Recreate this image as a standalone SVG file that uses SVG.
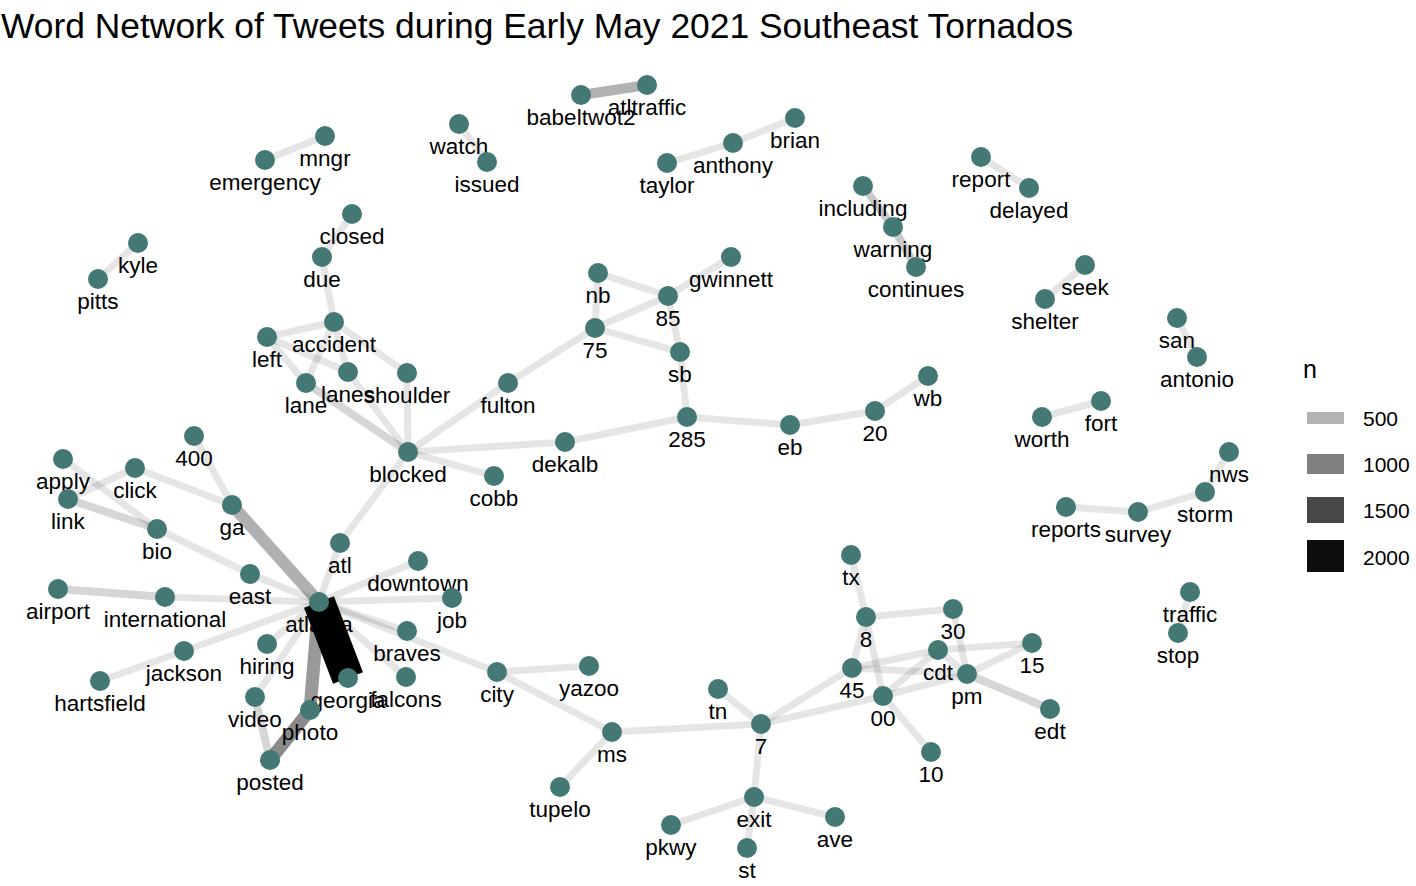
<svg xmlns="http://www.w3.org/2000/svg" width="1416" height="886" viewBox="0 0 1416 886">
<style>
text{font-family:"Liberation Sans",Arial,sans-serif;fill:#000}
.lbl{font-size:22.5px;text-anchor:middle}
.nd circle{fill:#437875}
.e line{stroke:#000;stroke-linecap:butt;fill:none}
.a1{stroke-opacity:.1;stroke-width:7}
.a2{stroke-opacity:.16;stroke-width:8}
.a3{stroke-opacity:.21;stroke-width:8}
.a4{stroke-opacity:.3;stroke-width:10}
.a5{stroke-opacity:.31;stroke-width:12}
.a6{stroke-opacity:.4;stroke-width:13}
.a7{stroke-opacity:.46;stroke-width:13}
.a8{stroke-opacity:1;stroke-width:32}
.leg{font-size:21px}
</style>
<rect width="1416" height="886" fill="#fff"/>
<text x="1" y="38" style="font-size:35.4px">Word Network of Tweets during Early May 2021 Southeast Tornados</text>
<g id="connectors" class="e">
<line class="a1" x1="325" y1="136" x2="265" y2="160"/>
<line class="a1" x1="459" y1="124" x2="487" y2="162"/>
<line class="a1" x1="667" y1="163" x2="733" y2="143"/>
<line class="a1" x1="733" y1="143" x2="795" y2="118"/>
<line class="a1" x1="138" y1="243" x2="98" y2="279"/>
<line class="a4" x1="581" y1="95" x2="647" y2="85"/>
<line class="a1" x1="352" y1="214" x2="322" y2="257"/>
<line class="a1" x1="322" y1="257" x2="334" y2="322"/>
<line class="a1" x1="334" y1="322" x2="267" y2="337"/>
<line class="a1" x1="334" y1="322" x2="306" y2="383"/>
<line class="a1" x1="334" y1="322" x2="348" y2="372"/>
<line class="a1" x1="334" y1="322" x2="407" y2="373"/>
<line class="a1" x1="267" y1="337" x2="306" y2="383"/>
<line class="a1" x1="267" y1="337" x2="348" y2="372"/>
<line class="a1" x1="407" y1="373" x2="408" y2="452"/>
<line class="a1" x1="348" y1="372" x2="408" y2="452"/>
<line class="a2" x1="306" y1="383" x2="408" y2="452"/>
<line class="a1" x1="408" y1="452" x2="508" y2="383"/>
<line class="a1" x1="508" y1="383" x2="595" y2="328"/>
<line class="a1" x1="408" y1="452" x2="565" y2="442"/>
<line class="a1" x1="565" y1="442" x2="687" y2="417"/>
<line class="a1" x1="408" y1="452" x2="494" y2="476"/>
<line class="a1" x1="408" y1="452" x2="340" y2="543"/>
<line class="a1" x1="595" y1="328" x2="598" y2="273"/>
<line class="a1" x1="598" y1="273" x2="668" y2="296"/>
<line class="a1" x1="595" y1="328" x2="668" y2="296"/>
<line class="a1" x1="668" y1="296" x2="731" y2="257"/>
<line class="a1" x1="595" y1="328" x2="680" y2="352"/>
<line class="a1" x1="668" y1="296" x2="680" y2="352"/>
<line class="a1" x1="680" y1="352" x2="687" y2="417"/>
<line class="a1" x1="687" y1="417" x2="790" y2="425"/>
<line class="a1" x1="790" y1="425" x2="875" y2="411"/>
<line class="a1" x1="875" y1="411" x2="928" y2="376"/>
<line class="a3" x1="863" y1="186" x2="893" y2="227"/>
<line class="a3" x1="893" y1="227" x2="916" y2="267"/>
<line class="a1" x1="981" y1="157" x2="1029" y2="188"/>
<line class="a1" x1="1085" y1="265" x2="1045" y2="299"/>
<line class="a1" x1="1177" y1="318" x2="1197" y2="357"/>
<line class="a1" x1="1101" y1="401" x2="1042" y2="417"/>
<line class="a1" x1="1066" y1="507" x2="1138" y2="512"/>
<line class="a1" x1="1138" y1="512" x2="1205" y2="492"/>
<line class="a1" x1="1205" y1="492" x2="1229" y2="452"/>
<line class="a1" x1="1190" y1="592" x2="1178" y2="633"/>
<line class="a1" x1="63" y1="459" x2="157" y2="529"/>
<line class="a1" x1="135" y1="468" x2="68" y2="499"/>
<line class="a2" x1="68" y1="499" x2="157" y2="529"/>
<line class="a1" x1="135" y1="468" x2="232" y2="505"/>
<line class="a1" x1="194" y1="436" x2="232" y2="505"/>
<line class="a5" x1="232" y1="505" x2="319" y2="602"/>
<line class="a1" x1="157" y1="529" x2="250" y2="574"/>
<line class="a1" x1="250" y1="574" x2="319" y2="602"/>
<line class="a2" x1="58" y1="589" x2="165" y2="597"/>
<line class="a1" x1="165" y1="597" x2="319" y2="602"/>
<line class="a1" x1="184" y1="651" x2="319" y2="602"/>
<line class="a1" x1="100" y1="681" x2="184" y2="651"/>
<line class="a1" x1="267" y1="644" x2="319" y2="602"/>
<line class="a1" x1="255" y1="697" x2="319" y2="602"/>
<line class="a1" x1="340" y1="543" x2="319" y2="602"/>
<line class="a1" x1="418" y1="561" x2="319" y2="602"/>
<line class="a1" x1="452" y1="598" x2="319" y2="602"/>
<line class="a1" x1="407" y1="631" x2="319" y2="602"/>
<line class="a1" x1="497" y1="672" x2="319" y2="602"/>
<line class="a1" x1="406" y1="677" x2="319" y2="602"/>
<line class="a2" x1="255" y1="697" x2="270" y2="760"/>
<line class="a6" x1="319" y1="602" x2="310" y2="710"/>
<line class="a7" x1="310" y1="710" x2="270" y2="760"/>
<line class="a8" x1="319" y1="602" x2="348" y2="678"/>
<line class="a1" x1="497" y1="672" x2="589" y2="666"/>
<line class="a1" x1="497" y1="672" x2="612" y2="732"/>
<line class="a1" x1="612" y1="732" x2="560" y2="787"/>
<line class="a1" x1="612" y1="732" x2="761" y2="724"/>
<line class="a1" x1="761" y1="724" x2="718" y2="689"/>
<line class="a1" x1="761" y1="724" x2="754" y2="797"/>
<line class="a1" x1="754" y1="797" x2="671" y2="825"/>
<line class="a1" x1="754" y1="797" x2="747" y2="848"/>
<line class="a1" x1="754" y1="797" x2="835" y2="817"/>
<line class="a1" x1="761" y1="724" x2="852" y2="668"/>
<line class="a1" x1="761" y1="724" x2="883" y2="696"/>
<line class="a1" x1="851" y1="555" x2="866" y2="617"/>
<line class="a1" x1="866" y1="617" x2="953" y2="609"/>
<line class="a1" x1="866" y1="617" x2="852" y2="668"/>
<line class="a1" x1="866" y1="617" x2="883" y2="696"/>
<line class="a1" x1="953" y1="609" x2="967" y2="674"/>
<line class="a1" x1="852" y1="668" x2="938" y2="650"/>
<line class="a1" x1="852" y1="668" x2="967" y2="674"/>
<line class="a1" x1="938" y1="650" x2="1032" y2="643"/>
<line class="a1" x1="938" y1="650" x2="967" y2="674"/>
<line class="a1" x1="883" y1="696" x2="938" y2="650"/>
<line class="a1" x1="883" y1="696" x2="967" y2="674"/>
<line class="a1" x1="967" y1="674" x2="1032" y2="643"/>
<line class="a2" x1="967" y1="674" x2="1050" y2="709"/>
<line class="a1" x1="883" y1="696" x2="931" y2="752"/>
</g>
<g id="nodes" class="nd">
<g id="n-babeltwot2"><circle cx="581" cy="95" r="10"/><text class="lbl" x="581" y="125">babeltwot2</text></g>
<g id="n-atltraffic"><circle cx="647" cy="85" r="10"/><text class="lbl" x="647" y="115">atltraffic</text></g>
<g id="n-watch"><circle cx="459" cy="124" r="10"/><text class="lbl" x="459" y="154">watch</text></g>
<g id="n-issued"><circle cx="487" cy="162" r="10"/><text class="lbl" x="487" y="192">issued</text></g>
<g id="n-mngr"><circle cx="325" cy="136" r="10"/><text class="lbl" x="325" y="166">mngr</text></g>
<g id="n-emergency"><circle cx="265" cy="160" r="10"/><text class="lbl" x="265" y="190">emergency</text></g>
<g id="n-brian"><circle cx="795" cy="118" r="10"/><text class="lbl" x="795" y="148">brian</text></g>
<g id="n-anthony"><circle cx="733" cy="143" r="10"/><text class="lbl" x="733" y="173">anthony</text></g>
<g id="n-taylor"><circle cx="667" cy="163" r="10"/><text class="lbl" x="667" y="193">taylor</text></g>
<g id="n-kyle"><circle cx="138" cy="243" r="10"/><text class="lbl" x="138" y="273">kyle</text></g>
<g id="n-pitts"><circle cx="98" cy="279" r="10"/><text class="lbl" x="98" y="309">pitts</text></g>
<g id="n-closed"><circle cx="352" cy="214" r="10"/><text class="lbl" x="352" y="244">closed</text></g>
<g id="n-due"><circle cx="322" cy="257" r="10"/><text class="lbl" x="322" y="287">due</text></g>
<g id="n-accident"><circle cx="334" cy="322" r="10"/><text class="lbl" x="334" y="352">accident</text></g>
<g id="n-left"><circle cx="267" cy="337" r="10"/><text class="lbl" x="267" y="367">left</text></g>
<g id="n-lane"><circle cx="306" cy="383" r="10"/><text class="lbl" x="306" y="413">lane</text></g>
<g id="n-lanes"><circle cx="348" cy="372" r="10"/><text class="lbl" x="348" y="402">lanes</text></g>
<g id="n-shoulder"><circle cx="407" cy="373" r="10"/><text class="lbl" x="407" y="403">shoulder</text></g>
<g id="n-fulton"><circle cx="508" cy="383" r="10"/><text class="lbl" x="508" y="413">fulton</text></g>
<g id="n-blocked"><circle cx="408" cy="452" r="10"/><text class="lbl" x="408" y="482">blocked</text></g>
<g id="n-cobb"><circle cx="494" cy="476" r="10"/><text class="lbl" x="494" y="506">cobb</text></g>
<g id="n-dekalb"><circle cx="565" cy="442" r="10"/><text class="lbl" x="565" y="472">dekalb</text></g>
<g id="n-nb"><circle cx="598" cy="273" r="10"/><text class="lbl" x="598" y="303">nb</text></g>
<g id="n-gwinnett"><circle cx="731" cy="257" r="10"/><text class="lbl" x="731" y="287">gwinnett</text></g>
<g id="n-85"><circle cx="668" cy="296" r="10"/><text class="lbl" x="668" y="326">85</text></g>
<g id="n-75"><circle cx="595" cy="328" r="10"/><text class="lbl" x="595" y="358">75</text></g>
<g id="n-sb"><circle cx="680" cy="352" r="10"/><text class="lbl" x="680" y="382">sb</text></g>
<g id="n-285"><circle cx="687" cy="417" r="10"/><text class="lbl" x="687" y="447">285</text></g>
<g id="n-eb"><circle cx="790" cy="425" r="10"/><text class="lbl" x="790" y="455">eb</text></g>
<g id="n-20"><circle cx="875" cy="411" r="10"/><text class="lbl" x="875" y="441">20</text></g>
<g id="n-wb"><circle cx="928" cy="376" r="10"/><text class="lbl" x="928" y="406">wb</text></g>
<g id="n-including"><circle cx="863" cy="186" r="10"/><text class="lbl" x="863" y="216">including</text></g>
<g id="n-warning"><circle cx="893" cy="227" r="10"/><text class="lbl" x="893" y="257">warning</text></g>
<g id="n-continues"><circle cx="916" cy="267" r="10"/><text class="lbl" x="916" y="297">continues</text></g>
<g id="n-report"><circle cx="981" cy="157" r="10"/><text class="lbl" x="981" y="187">report</text></g>
<g id="n-delayed"><circle cx="1029" cy="188" r="10"/><text class="lbl" x="1029" y="218">delayed</text></g>
<g id="n-seek"><circle cx="1085" cy="265" r="10"/><text class="lbl" x="1085" y="295">seek</text></g>
<g id="n-shelter"><circle cx="1045" cy="299" r="10"/><text class="lbl" x="1045" y="329">shelter</text></g>
<g id="n-san"><circle cx="1177" cy="318" r="10"/><text class="lbl" x="1177" y="348">san</text></g>
<g id="n-antonio"><circle cx="1197" cy="357" r="10"/><text class="lbl" x="1197" y="387">antonio</text></g>
<g id="n-fort"><circle cx="1101" cy="401" r="10"/><text class="lbl" x="1101" y="431">fort</text></g>
<g id="n-worth"><circle cx="1042" cy="417" r="10"/><text class="lbl" x="1042" y="447">worth</text></g>
<g id="n-nws"><circle cx="1229" cy="452" r="10"/><text class="lbl" x="1229" y="482">nws</text></g>
<g id="n-storm"><circle cx="1205" cy="492" r="10"/><text class="lbl" x="1205" y="522">storm</text></g>
<g id="n-survey"><circle cx="1138" cy="512" r="10"/><text class="lbl" x="1138" y="542">survey</text></g>
<g id="n-reports"><circle cx="1066" cy="507" r="10"/><text class="lbl" x="1066" y="537">reports</text></g>
<g id="n-traffic"><circle cx="1190" cy="592" r="10"/><text class="lbl" x="1190" y="622">traffic</text></g>
<g id="n-stop"><circle cx="1178" cy="633" r="10"/><text class="lbl" x="1178" y="663">stop</text></g>
<g id="n-400"><circle cx="194" cy="436" r="10"/><text class="lbl" x="194" y="466">400</text></g>
<g id="n-apply"><circle cx="63" cy="459" r="10"/><text class="lbl" x="63" y="489">apply</text></g>
<g id="n-click"><circle cx="135" cy="468" r="10"/><text class="lbl" x="135" y="498">click</text></g>
<g id="n-link"><circle cx="68" cy="499" r="10"/><text class="lbl" x="68" y="529">link</text></g>
<g id="n-bio"><circle cx="157" cy="529" r="10"/><text class="lbl" x="157" y="559">bio</text></g>
<g id="n-ga"><circle cx="232" cy="505" r="10"/><text class="lbl" x="232" y="535">ga</text></g>
<g id="n-atl"><circle cx="340" cy="543" r="10"/><text class="lbl" x="340" y="573">atl</text></g>
<g id="n-downtown"><circle cx="418" cy="561" r="10"/><text class="lbl" x="418" y="591">downtown</text></g>
<g id="n-east"><circle cx="250" cy="574" r="10"/><text class="lbl" x="250" y="604">east</text></g>
<g id="n-airport"><circle cx="58" cy="589" r="10"/><text class="lbl" x="58" y="619">airport</text></g>
<g id="n-international"><circle cx="165" cy="597" r="10"/><text class="lbl" x="165" y="627">international</text></g>
<g id="n-job"><circle cx="452" cy="598" r="10"/><text class="lbl" x="452" y="628">job</text></g>
<g id="n-braves"><circle cx="407" cy="631" r="10"/><text class="lbl" x="407" y="661">braves</text></g>
<g id="n-hiring"><circle cx="267" cy="644" r="10"/><text class="lbl" x="267" y="674">hiring</text></g>
<g id="n-jackson"><circle cx="184" cy="651" r="10"/><text class="lbl" x="184" y="681">jackson</text></g>
<g id="n-hartsfield"><circle cx="100" cy="681" r="10"/><text class="lbl" x="100" y="711">hartsfield</text></g>
<g id="n-falcons"><circle cx="406" cy="677" r="10"/><text class="lbl" x="406" y="707">falcons</text></g>
<g id="n-georgia"><circle cx="348" cy="678" r="10"/><text class="lbl" x="348" y="708">georgia</text></g>
<g id="n-atlanta"><circle cx="319" cy="602" r="10"/><text class="lbl" x="319" y="632">atlanta</text></g>
<g id="n-city"><circle cx="497" cy="672" r="10"/><text class="lbl" x="497" y="702">city</text></g>
<g id="n-yazoo"><circle cx="589" cy="666" r="10"/><text class="lbl" x="589" y="696">yazoo</text></g>
<g id="n-video"><circle cx="255" cy="697" r="10"/><text class="lbl" x="255" y="727">video</text></g>
<g id="n-photo"><circle cx="310" cy="710" r="10"/><text class="lbl" x="310" y="740">photo</text></g>
<g id="n-posted"><circle cx="270" cy="760" r="10"/><text class="lbl" x="270" y="790">posted</text></g>
<g id="n-ms"><circle cx="612" cy="732" r="10"/><text class="lbl" x="612" y="762">ms</text></g>
<g id="n-tupelo"><circle cx="560" cy="787" r="10"/><text class="lbl" x="560" y="817">tupelo</text></g>
<g id="n-tn"><circle cx="718" cy="689" r="10"/><text class="lbl" x="718" y="719">tn</text></g>
<g id="n-7"><circle cx="761" cy="724" r="10"/><text class="lbl" x="761" y="754">7</text></g>
<g id="n-exit"><circle cx="754" cy="797" r="10"/><text class="lbl" x="754" y="827">exit</text></g>
<g id="n-pkwy"><circle cx="671" cy="825" r="10"/><text class="lbl" x="671" y="855">pkwy</text></g>
<g id="n-st"><circle cx="747" cy="848" r="10"/><text class="lbl" x="747" y="878">st</text></g>
<g id="n-ave"><circle cx="835" cy="817" r="10"/><text class="lbl" x="835" y="847">ave</text></g>
<g id="n-tx"><circle cx="851" cy="555" r="10"/><text class="lbl" x="851" y="585">tx</text></g>
<g id="n-8"><circle cx="866" cy="617" r="10"/><text class="lbl" x="866" y="647">8</text></g>
<g id="n-30"><circle cx="953" cy="609" r="10"/><text class="lbl" x="953" y="639">30</text></g>
<g id="n-cdt"><circle cx="938" cy="650" r="10"/><text class="lbl" x="938" y="680">cdt</text></g>
<g id="n-15"><circle cx="1032" cy="643" r="10"/><text class="lbl" x="1032" y="673">15</text></g>
<g id="n-45"><circle cx="852" cy="668" r="10"/><text class="lbl" x="852" y="698">45</text></g>
<g id="n-pm"><circle cx="967" cy="674" r="10"/><text class="lbl" x="967" y="704">pm</text></g>
<g id="n-00"><circle cx="883" cy="696" r="10"/><text class="lbl" x="883" y="726">00</text></g>
<g id="n-edt"><circle cx="1050" cy="709" r="10"/><text class="lbl" x="1050" y="739">edt</text></g>
<g id="n-10"><circle cx="931" cy="752" r="10"/><text class="lbl" x="931" y="782">10</text></g>
</g>
<g id="legend">
<text x="1303" y="378" style="font-size:25px">n</text>
<rect x="1307" y="412" width="37" height="12" fill="#b3b3b3"/>
<rect x="1307" y="454" width="37" height="20" fill="#808080"/>
<rect x="1307" y="497" width="37" height="26" fill="#474747"/>
<rect x="1307" y="540" width="37" height="32" fill="#0d0d0d"/>
<text class="leg" x="1363" y="426">500</text>
<text class="leg" x="1363" y="472">1000</text>
<text class="leg" x="1363" y="518">1500</text>
<text class="leg" x="1363" y="565">2000</text>
</g>
</svg>
